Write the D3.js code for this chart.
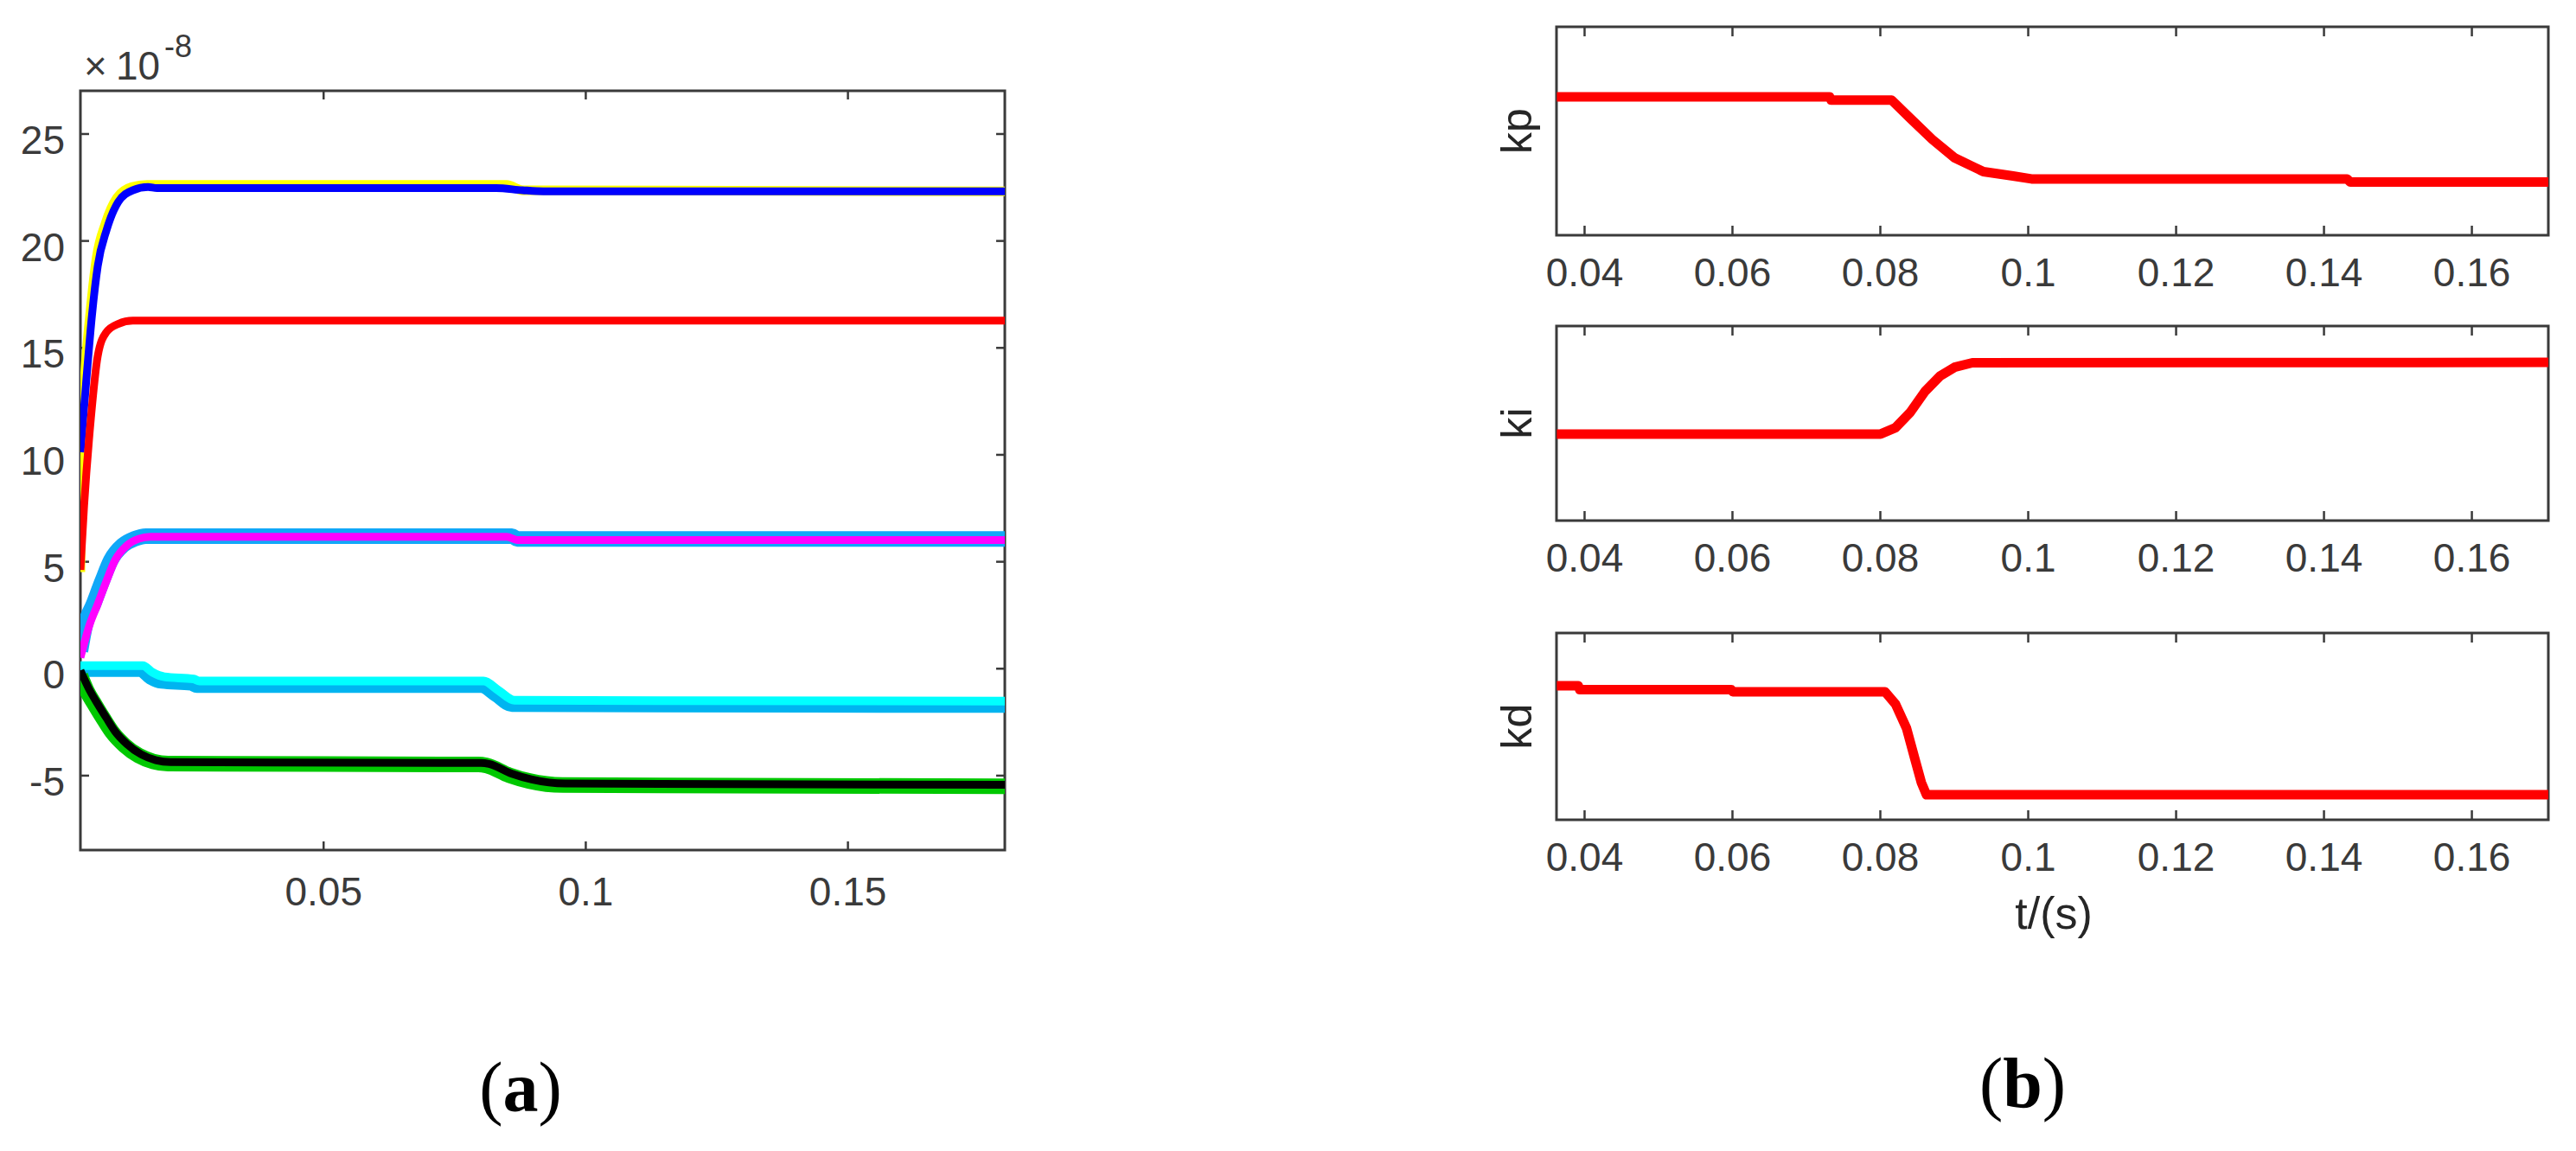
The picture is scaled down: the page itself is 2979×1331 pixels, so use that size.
<!DOCTYPE html>
<meta charset="utf-8">
<style>
body { margin: 0; background: #fff; }
svg { font-family: "Liberation Sans", Arial, sans-serif; }
.cap { font-family: "Liberation Serif", "Times New Roman", serif; font-size: 82px; fill: #000; }
</style>
<body>
<svg width="2979" height="1331"></svg>
<script src="https://d3js.org/d3.v7.min.js"></script>
<script>

// ---- (a) ticks
var xTicksA = [0.05, 0.1, 0.15];
var yTicksA = [-5, 0, 5, 10, 15, 20, 25];

// ---- (a) series, time in s, value in 1e-8
var yellowT = [0.0037, 0.0039, 0.0046, 0.0057, 0.0068, 0.0085, 0.0107, 0.0135, 0.0164, 0.085, 0.088, 0.18];
var yellowV = [4.5, 10.5, 13.8, 16.9, 19.2, 20.8, 22.0, 22.5, 22.6, 22.6, 22.35, 22.3];

var blueT = [0.0037, 0.0048, 0.0059, 0.0070, 0.0087, 0.0109, 0.0137, 0.0166, 0.0183, 0.083, 0.088, 0.092, 0.18];
var blueV = [10.1, 13.4, 16.5, 18.8, 20.5, 21.8, 22.35, 22.5, 22.45, 22.45, 22.35, 22.3, 22.3];

var redT = [0.0037, 0.0044, 0.0057, 0.0070, 0.0086, 0.0109, 0.0137, 0.18];
var redV = [4.6, 7.6, 11.7, 14.6, 15.7, 16.1, 16.25, 16.25];

var lightBlueT = [0.0037, 0.0046, 0.0062, 0.0079, 0.0095, 0.0118, 0.0140, 0.0162, 0.086, 0.087, 0.18];
var lightBlueV = [0.8, 2.0, 3.0, 4.1, 5.05, 5.75, 6.05, 6.18, 6.18, 6.05, 6.05];

var magentaT = [0.0037, 0.0054, 0.0070, 0.0087, 0.0103, 0.0126, 0.0148, 0.0170, 0.085, 0.087, 0.18];
var magentaV = [0.5, 2.0, 3.0, 4.1, 5.05, 5.75, 6.05, 6.15, 6.15, 6.0, 6.0];

var skyT = [0.0037, 0.0151, 0.0170, 0.0192, 0.0248, 0.0259, 0.0801, 0.0829, 0.0860, 0.18];
var skyV = [-0.1, -0.1, -0.45, -0.65, -0.74, -0.85, -0.85, -1.27, -1.74, -1.78];

var cyanT = [0.0037, 0.0156, 0.0175, 0.0197, 0.0253, 0.0264, 0.0806, 0.0834, 0.0865, 0.18];
var cyanV = [0.12, 0.12, -0.2, -0.4, -0.5, -0.6, -0.6, -1.03, -1.5, -1.54];

var greenT = [0.0037, 0.0049, 0.0065, 0.0082, 0.0098, 0.0121, 0.0148, 0.0176, 0.0204, 0.0796, 0.0811, 0.0855, 0.0893, 0.0957, 0.18];
var greenV = [-0.35, -1.05, -1.72, -2.4, -3.0, -3.6, -4.08, -4.36, -4.46, -4.5, -4.54, -5.0, -5.27, -5.46, -5.52];

var blackT = [0.0037, 0.0054, 0.0070, 0.0087, 0.0103, 0.0126, 0.0153, 0.0181, 0.0209, 0.0801, 0.0816, 0.0860, 0.0898, 0.0962, 0.18];
var blackV = [-0.1, -1.0, -1.67, -2.34, -2.95, -3.55, -4.03, -4.3, -4.39, -4.43, -4.47, -4.93, -5.2, -5.39, -5.45];

// ---- (b) ticks and gains (fraction of panel height, no y scale shown)
var xTicksB = [0.04, 0.06, 0.08, 0.1, 0.12, 0.14, 0.16];

var kpT = [0.0363, 0.0732, 0.0734, 0.0816, 0.0841, 0.0871, 0.0901, 0.0940, 0.0980, 0.1005, 0.1432, 0.1436, 0.1704];
var kpV = [0.664, 0.664, 0.648, 0.648, 0.561, 0.459, 0.371, 0.305, 0.284, 0.270, 0.270, 0.255, 0.255];

var kiT = [0.0363, 0.0801, 0.0821, 0.0841, 0.0861, 0.0881, 0.0901, 0.0925, 0.1704];
var kiV = [0.445, 0.445, 0.477, 0.556, 0.664, 0.742, 0.788, 0.811, 0.813];

var kdT = [0.0363, 0.0392, 0.0394, 0.0599, 0.0601, 0.0807, 0.0821, 0.0836, 0.0847, 0.0856, 0.0863, 0.1704];
var kdV = [0.718, 0.718, 0.697, 0.697, 0.685, 0.685, 0.62, 0.49, 0.33, 0.2, 0.134, 0.134];

var seriesA = [
  {t: yellowT, v: yellowV, color: "#ffff00", w: 11},
  {t: blueT, v: blueV, color: "#0000ff", w: 9},
  {t: redT, v: redV, color: "#ff0000", w: 9},
  {t: lightBlueT, v: lightBlueV, color: "#10a8f8", w: 18},
  {t: magentaT, v: magentaV, color: "#ff00ff", w: 9},
  {t: skyT, v: skyV, color: "#00b4f0", w: 15},
  {t: cyanT, v: cyanV, color: "#00ffff", w: 10},
  {t: greenT, v: greenV, color: "#00c800", w: 18},
  {t: blackT, v: blackV, color: "#000000", w: 9}
];

var panelsB = [
  {name: "kp", t: kpT, v: kpV, top: 31, bottom: 272},
  {name: "ki", t: kiT, v: kiV, top: 377, bottom: 602},
  {name: "kd", t: kdT, v: kdV, top: 732, bottom: 948}
];

var svg = d3.select("svg");
var axisColor = "#3a3a3a";

function styleAxis(g) {
  g.select(".domain").remove();
  g.attr("font-size", 46).attr("font-family", "'Liberation Sans', Arial, sans-serif");
  g.selectAll(".tick line").attr("stroke", axisColor).attr("stroke-width", 2.5);
  g.selectAll(".tick text").attr("fill", "#3a3a3a");
}

function plain(d) { return String(d); }

// ================= (a)
var xA = d3.scaleLinear().domain([0.0037, 0.18]).range([93, 1162]),
    yA = d3.scaleLinear().domain([-8.5, 27]).range([983, 105]);

svg.append("rect")
    .attr("x", 93).attr("y", 105)
    .attr("width", 1162 - 93).attr("height", 983 - 105)
    .attr("fill", "none").attr("stroke", axisColor).attr("stroke-width", 3);

svg.append("g").attr("transform", "translate(0,983)")
    .call(d3.axisBottom(xA).tickValues(xTicksA).tickFormat(plain).tickSize(-10).tickPadding(31))
    .call(styleAxis);
svg.append("g").attr("transform", "translate(0,105)")
    .call(d3.axisTop(xA).tickValues(xTicksA).tickFormat("").tickSize(-10))
    .call(styleAxis);
svg.append("g").attr("transform", "translate(93,0)")
    .call(d3.axisLeft(yA).tickValues(yTicksA).tickFormat(plain).tickSize(-10).tickPadding(18))
    .call(styleAxis)
  .selectAll(".tick text").attr("dy", "0.5em");
svg.append("g").attr("transform", "translate(1162,0)")
    .call(d3.axisRight(yA).tickValues(yTicksA).tickFormat("").tickSize(-10))
    .call(styleAxis);

svg.append("clipPath").attr("id", "clipA")
  .append("rect").attr("x", 93).attr("y", 105).attr("width", 1069).attr("height", 878);

var lineA = d3.line()
    .x(function(d) { return xA(d[0]); })
    .y(function(d) { return yA(d[1]); })
    .curve(d3.curveMonotoneX);

var gA = svg.append("g").attr("clip-path", "url(#clipA)");
seriesA.forEach(function(s) {
  gA.append("path")
      .datum(d3.zip(s.t, s.v))
      .attr("d", lineA)
      .attr("fill", "none")
      .attr("stroke", s.color)
      .attr("stroke-width", s.w)
      .attr("stroke-linejoin", "round");
});

// exponent
svg.append("text").attr("x", 97).attr("y", 92).attr("font-size", 46).attr("fill", "#3a3a3a").text("\u00d7");
svg.append("text").attr("x", 134).attr("y", 92).attr("font-size", 46).attr("fill", "#3a3a3a").text("10");
svg.append("text").attr("x", 190).attr("y", 66).attr("font-size", 36).attr("fill", "#3a3a3a").text("-8");

// ================= (b)
var xB = d3.scaleLinear().domain([0.03626, 0.1704]).range([1800, 2947]);

panelsB.forEach(function(p, i) {
  var yB = d3.scaleLinear().domain([0, 1]).range([p.bottom, p.top]);

  svg.append("rect")
      .attr("x", 1800).attr("y", p.top)
      .attr("width", 2947 - 1800).attr("height", p.bottom - p.top)
      .attr("fill", "none").attr("stroke", axisColor).attr("stroke-width", 3);

  svg.append("g").attr("transform", "translate(0," + p.bottom + ")")
      .call(d3.axisBottom(xB).tickValues(xTicksB).tickFormat(plain).tickSize(-11).tickPadding(26))
      .call(styleAxis);
  svg.append("g").attr("transform", "translate(0," + p.top + ")")
      .call(d3.axisTop(xB).tickValues(xTicksB).tickFormat("").tickSize(-11))
      .call(styleAxis);

  svg.append("clipPath").attr("id", "clipB" + i)
    .append("rect").attr("x", 1800).attr("y", p.top).attr("width", 1147).attr("height", p.bottom - p.top);

  var lineB = d3.line()
      .x(function(d) { return xB(d[0]); })
      .y(function(d) { return yB(d[1]); });

  svg.append("path")
      .attr("clip-path", "url(#clipB" + i + ")")
      .datum(d3.zip(p.t, p.v))
      .attr("d", lineB)
      .attr("fill", "none")
      .attr("stroke", "#ff0000")
      .attr("stroke-width", 11)
      .attr("stroke-linejoin", "round");

  svg.append("text")
      .attr("transform", "translate(1771," + ((p.top + p.bottom) / 2) + ") rotate(-90)")
      .attr("text-anchor", "middle")
      .attr("font-size", 50)
      .attr("fill", "#262626")
      .text(p.name);
});

svg.append("text")
    .attr("x", 2375).attr("y", 1074)
    .attr("text-anchor", "middle")
    .attr("font-size", 52)
    .attr("fill", "#262626")
    .text("t/(s)");

// captions
function caption(x, y, letter) {
  var t = svg.append("text").attr("class", "cap").attr("x", x).attr("y", y).attr("text-anchor", "middle");
  t.append("tspan").text("(");
  t.append("tspan").attr("font-weight", "bold").text(letter);
  t.append("tspan").text(")");
}
caption(602, 1285, "a");
caption(2339, 1280, "b");

</script>
</body>
